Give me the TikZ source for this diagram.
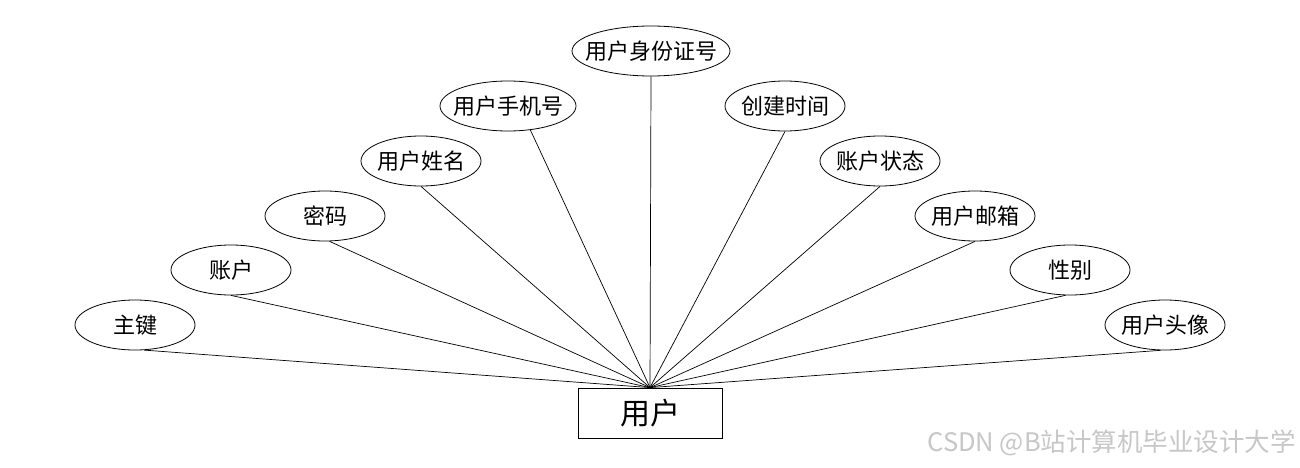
\documentclass[tikz,border=0pt]{standalone}
\usepackage{fontspec}
\setmainfont{Noto Sans CJK SC}
\usetikzlibrary{shapes.geometric}
\begin{document}
\begin{tikzpicture}[x=1pt,y=-1pt,
  attr/.style={draw,ellipse,line width=0.8pt,minimum height=50pt,minimum width=120pt,inner sep=0pt,
    label={[font=\fontsize{22}{24}\selectfont,inner sep=0pt]center:#1}},
  entity/.style={draw,rectangle,line width=0.8pt,minimum width=144pt,minimum height=50pt,inner sep=0pt,font=\fontsize{30}{32}\selectfont},
  conn/.style={line width=0.7pt}]
\useasboundingbox (0,0) rectangle (1300,468);
\fill[white] (0,0) rectangle (1300,468);
\node[entity] (user) at (650,413) {用户};
\node[attr=主键] (a1) at (135,325) {};
\node[attr=账户] (a2) at (231,270) {};
\node[attr=密码] (a3) at (325,216) {};
\node[attr=用户姓名] (a4) at (421,161) {};
\node[attr=用户手机号,minimum width=136pt] (a5) at (508,106) {};
\node[attr=用户身份证号,minimum width=158pt] (a6) at (651,51) {};
\node[attr=创建时间] (a7) at (785,106) {};
\node[attr=账户状态] (a8) at (880,161) {};
\node[attr=用户邮箱] (a9) at (975,216) {};
\node[attr=性别] (a10) at (1070,270) {};
\node[attr=用户头像] (a11) at (1165,325) {};
\coordinate (hub) at (user.north);
\draw[conn] (a1.-70) -- (hub);
\draw[conn] (a2.south) -- (hub);
\draw[conn] (a3.-80) -- (hub);
\draw[conn] (a4.south) -- (hub);
\draw[conn] (a5.-47) -- (hub);
\draw[conn] (a6.south) -- (hub);
\draw[conn] (a7.south) -- (hub);
\draw[conn] (a8.south) -- (hub);
\draw[conn] (a9.south) -- (hub);
\draw[conn] (a10.-100) -- (hub);
\draw[conn] (a11.-100) -- (hub);
\node[anchor=east,text=black!22,font=\fontsize{25.5}{27}\selectfont,inner sep=0pt] (wm) at (1296,443) {CSDN @B站计算机毕业设计大学};
\end{tikzpicture}
\end{document}
